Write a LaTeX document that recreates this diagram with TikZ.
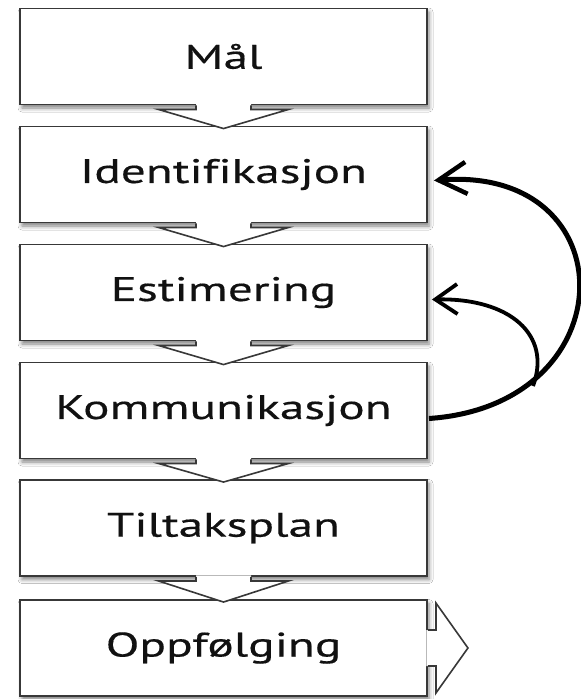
\documentclass[tikz,border=0pt]{standalone}
\usepackage{fontspec}
\setmainfont[FakeStretch=1.45,FakeBold=0.4,Ligatures=NoCommon]{PT Sans}
\usetikzlibrary{arrows.meta,calc,shadows.blur}
\definecolor{edge}{HTML}{383838}
\definecolor{ink}{HTML}{111111}
\newcommand\mychevron[2]{%
  \fill[white] ($(#1.south)+(-27.5,-1.5)$) -- ($(#1.south)+(-27.5,4)$) -- ($(#1.south)+(-65,4)$)
     -- ($(#2.north)+(0,3)$) -- ($(#1.south)+(65,4)$) -- ($(#1.south)+(27.5,4)$) -- ($(#1.south)+(27.5,-1.5)$) -- cycle;
  \draw[chev] ($(#1.south)+(-27.5,0)$) -- ($(#1.south)+(-27.5,4)$) -- ($(#1.south)+(-65,4)$)
     -- ($(#2.north)+(0,3)$) -- ($(#1.south)+(65,4)$) -- ($(#1.south)+(27.5,4)$) -- ($(#1.south)+(27.5,0)$);}
\begin{document}
\begin{tikzpicture}[x=1pt,y=-1pt,
  stepbox/.style={draw=edge, line width=1.9pt, fill=white, minimum width=407pt, minimum height=96pt,
    inner sep=0pt, font=\fontsize{34}{40}\selectfont, text=ink,
    blur shadow={shadow xshift=2pt, shadow yshift=-3.5pt, shadow blur radius=4pt, shadow opacity=50}},
  chev/.style={draw=edge, line width=1.6pt, line join=miter},
  bigloop/.style={draw=black, line width=5pt, -{Straight Barb[length=28pt,width=32pt,line width=4.5pt]}},
  smallloop/.style={draw=black, line width=3.8pt, -{Straight Barb[length=22pt,width=30pt,line width=3.8pt]}}]
\useasboundingbox[fill=white] (0,0) rectangle (581,699);
\node[stepbox] (mal)   at (223.5,56.5)  {Mål};
\node[stepbox] (ident) at (223.5,174.5) {Identifikasjon};
\node[stepbox] (est)   at (223.5,292.5) {Estimering};
\node[stepbox] (kom)   at (223.5,410.5) {Kommunikasjon};
\node[stepbox] (tilt)  at (223.5,528)   {Tiltaksplan};
\node[stepbox] (opp)   at (223.5,648)   {Oppfølging};
\mychevron{mal}{ident}
\mychevron{ident}{est}
\mychevron{est}{kom}
\mychevron{kom}{tilt}
\mychevron{tilt}{opp}
% final right arrow
\fill[white] ($(opp.east)+(-1.5,-18)$) -- ($(opp.east)+(8,-18)$) -- ($(opp.east)+(8,-45)$) -- ($(opp.east)+(40,0)$)
   -- ($(opp.east)+(8,45)$) -- ($(opp.east)+(8,18)$) -- ($(opp.east)+(-1.5,18)$) -- cycle;
\draw[chev] ($(opp.east)+(0,-18)$) -- ($(opp.east)+(8,-18)$) -- ($(opp.east)+(8,-45)$) -- ($(opp.east)+(40,0)$)
   -- ($(opp.east)+(8,45)$) -- ($(opp.east)+(8,18)$) -- ($(opp.east)+(0,18)$);
% feedback loops
\coordinate (k1) at ($(kom.east)+(1,8)$);
\coordinate (i1) at ($(ident.east)+(6,6)$);
\coordinate (e1) at ($(est.east)+(4,7)$);
\coordinate (j) at (533,386);
\draw[bigloop] (k1) .. controls (628,405) and (628,165) .. (i1);
\draw[smallloop] (j) .. controls (552,335) and (510,298) .. (e1);
\end{tikzpicture}
\end{document}
